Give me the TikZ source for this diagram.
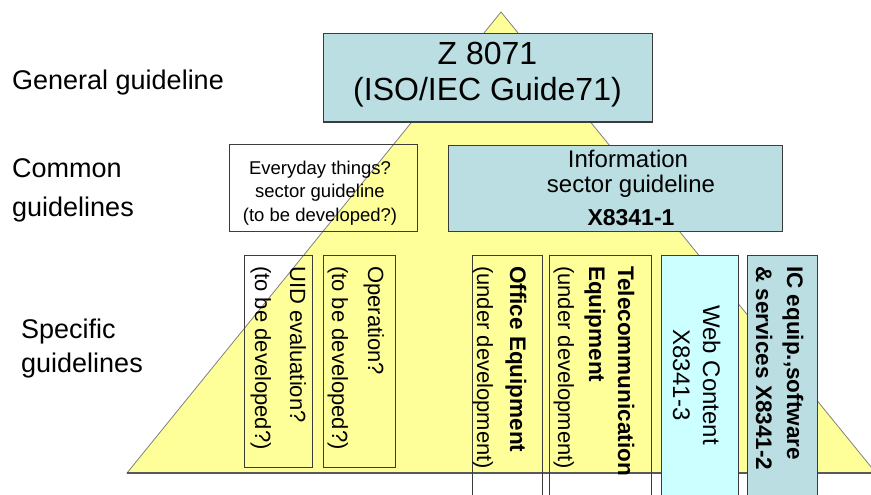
\documentclass[tikz,border=0pt]{standalone}
\usepackage{fontspec}
\setmainfont{Liberation Sans}
\definecolor{pyr}{RGB}{255,255,153}
\definecolor{teal}{RGB}{186,222,226}
\definecolor{cyanbox}{RGB}{204,255,255}
\definecolor{edge}{RGB}{60,60,60}
\tikzset{
  panel/.style={draw=edge, line width=1pt, inner sep=0pt},
  lbl/.style={inner sep=0pt, font=\fontsize{27}{31}\selectfont},
  vtxt/.style={rotate=-90, anchor=base west, inner sep=0pt, font=\fontsize{22}{26}\selectfont},
  vbold/.style={vtxt, font=\fontsize{22.5}{26}\selectfont\bfseries},
  wtxt/.style={rotate=-90, anchor=base, inner sep=0pt, font=\fontsize{24}{28}\selectfont},
}
\begin{document}
\begin{tikzpicture}[x=1pt, y=-1pt]
\useasboundingbox (0,0) rectangle (871,495);
\clip (0,0) rectangle (871,495);

% pyramid
\path[fill=pyr, draw=gray, line width=0.8pt] (501,12) -- (876,473) -- (127,473) -- cycle;
\draw[gray!70!black, line width=1.8pt] (127,473) -- (876,473);

% level captions
\node[lbl, anchor=base west] (gen) at (12,90) {General guideline};
\node[lbl, anchor=base west] (com1) at (12,177) {Common};
\node[lbl, anchor=base west] (com2) at (12,216) {guidelines};
\node[lbl, anchor=base west] (spe1) at (21,338) {Specific};
\node[lbl, anchor=base west] (spe2) at (21,372) {guidelines};

% general guideline
\node[panel, fill=teal, minimum width=329pt, minimum height=88pt] (zbox) at (487.5,78) {};
\node[inner sep=0pt, anchor=base, font=\fontsize{32}{36}\selectfont] (z1) at (487.5,65) {Z 8071};
\node[inner sep=0pt, anchor=base, font=\fontsize{32}{36}\selectfont] (z2) at (487.5,100) {(ISO/IEC Guide71)};

% common guidelines
\node[panel, minimum width=188pt, minimum height=87pt] (every) at (323,187.5) {};
\node[inner sep=0pt, anchor=base, font=\fontsize{18.5}{22}\selectfont] (e1) at (320,174) {Everyday things?};
\node[inner sep=0pt, anchor=base, font=\fontsize{18.5}{22}\selectfont] (e2) at (320,197.5) {sector guideline};
\node[inner sep=0pt, anchor=base, font=\fontsize{18.5}{22}\selectfont] (e3) at (320,221) {(to be developed?)};

\node[panel, fill=teal, minimum width=334pt, minimum height=86pt] (info) at (615,188) {};
\node[inner sep=0pt, anchor=base, font=\fontsize{24}{28}\selectfont] (i1) at (628,167) {Information};
\node[inner sep=0pt, anchor=base, font=\fontsize{24}{28}\selectfont] (i2) at (631,192) {sector guideline};
\node[inner sep=0pt, anchor=base, font=\fontsize{23}{28}\selectfont\bfseries] (i3) at (631,225) {X8341-1};

% specific guidelines
\node[panel, minimum width=68pt, minimum height=212pt] (uid) at (278,361) {};
\node[vtxt] (uid1) at (290,266) {UID evaluation?};
\node[vtxt] (uid2) at (255,266) {(to be developed?)};

\node[panel, minimum width=72pt, minimum height=212pt] (oper) at (359,361) {};
\node[vtxt] (op1) at (368,266) {Operation?};
\node[vtxt] (op2) at (332,266) {(to be developed?)};

\node[panel, minimum width=70pt, minimum height=250pt] (office) at (507,380) {};
\node[vbold] (of1) at (510,266) {Office Equipment};
\node[vtxt] (of2) at (477,266) {(under development)};

\node[panel, minimum width=102pt, minimum height=250pt] (tele) at (600,380) {};
\node[vbold] (te1) at (618,266) {Telecommunication};
\node[vbold] (te2) at (589,266) {Equipment};
\node[vtxt] (te3) at (558,266) {(under development)};

\node[panel, fill=cyanbox, minimum width=77pt, minimum height=250pt] (web) at (699.5,380) {};
\node[wtxt] (w1) at (703,375) {Web Content};
\node[wtxt] (w2) at (673,375) {X8341-3};

\node[panel, fill=teal, minimum width=70pt, minimum height=250pt] (ic) at (782,380) {};
\node[vbold] (ic1) at (787,266) {IC equip.,software};
\node[vbold] (ic2) at (756,266) {\& services X8341-2};
\end{tikzpicture}
\end{document}
